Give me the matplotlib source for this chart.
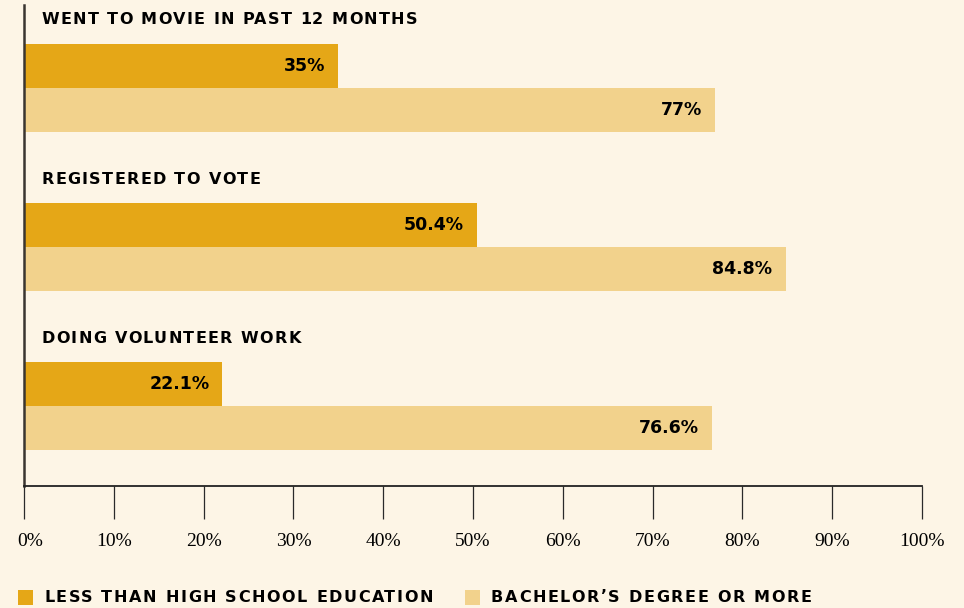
import matplotlib
matplotlib.use("Agg")
import matplotlib.pyplot as plt
import matplotlib.transforms as mtransforms
from matplotlib.font_manager import FontProperties, findfont, get_font
from matplotlib.patches import Rectangle

# data
categories = ["WENT TO MOVIE IN PAST 12 MONTHS", "REGISTERED TO VOTE", "DOING VOLUNTEER WORK"]
less_than_hs = [35, 50.4, 22.1]
bachelors = [77, 84.8, 76.6]
value_labels_hs = ["35%", "50.4%", "22.1%"]
value_labels_ba = ["77%", "84.8%", "76.6%"]
series_names = ["LESS THAN HIGH SCHOOL EDUCATION", "BACHELOR\u2019S DEGREE OR MORE"]
xticks = [0, 10, 20, 30, 40, 50, 60, 70, 80, 90, 100]

BG = "#FDF5E6"
DARK = "#E5A717"
LIGHT = "#F2D28C"

W, H = 964, 608
fig = plt.figure(figsize=(W / 100, H / 100), dpi=100, facecolor=BG)

# axes in pixel terms: x 24..922, y 5..486
ax = fig.add_axes([24 / W, 1 - 486 / H, (922 - 24) / W, (486 - 5) / H])
ax.set_facecolor(BG)

title_font = FontProperties(family="DejaVu Sans", weight="bold", size=11.5)

try:
    from matplotlib.ft2font import Kerning
    KERN = Kerning.DEFAULT
except ImportError:
    from matplotlib.ft2font import KERNING_DEFAULT as KERN


def spaced_text(x, y, s, prop, spacing, transform, color="black"):
    # matplotlib has no letter-spacing, so place each glyph by hand
    font = get_font(findfont(prop))
    font.set_size(prop.get_size_in_points(), 72)
    off = 0.0
    prev = None
    for ch in s:
        idx = font.get_char_index(ord(ch))
        if prev is not None:
            off += font.get_kerning(prev, idx, KERN) / 64
        tr = mtransforms.offset_copy(transform, fig=fig, x=off, y=0, units="points")
        fig.text(x, y, ch, fontproperties=prop, color=color, va="center", ha="left", transform=tr)
        g = font.load_char(ord(ch))
        off += g.linearHoriAdvance / 65536 + spacing
        prev = idx


# group layout (units: one group = 1)
px = 159.0
title_off = (20 - 5) / px
dark_off = (66 - 5) / px
light_off = (110 - 5) / px
bar_h = 44 / px

for i, cat in enumerate(categories):
    ax.barh(i + dark_off, less_than_hs[i], height=bar_h, color=DARK, linewidth=0)
    ax.barh(i + light_off, bachelors[i], height=bar_h, color=LIGHT, linewidth=0)
    ax.annotate(value_labels_hs[i], (less_than_hs[i], i + dark_off), xytext=(-9.5, 0),
                textcoords="offset points", ha="right", va="center",
                fontsize=12.5, fontweight="bold", family="DejaVu Sans")
    ax.annotate(value_labels_ba[i], (bachelors[i], i + light_off), xytext=(-9.5, 0),
                textcoords="offset points", ha="right", va="center",
                fontsize=12.5, fontweight="bold", family="DejaVu Sans")
    spaced_text(0, i + title_off, cat, title_font, 1.0,
                mtransforms.offset_copy(ax.transData, fig=fig, x=12.5, y=0, units="points"))

ax.set_xlim(0, 100)
ax.set_ylim(481 / px, 0)

ax.spines["top"].set_visible(False)
ax.spines["right"].set_visible(False)
ax.spines["left"].set_color("#3a3530")
ax.spines["left"].set_linewidth(1.8)
ax.spines["bottom"].set_color("#222222")
ax.spines["bottom"].set_linewidth(1.3)

ax.set_yticks([])
ax.set_xticks(xticks)
ax.set_xticklabels([f"{t}%" for t in xticks], family="Liberation Serif", fontsize=14)
ax.tick_params(axis="x", direction="out", length=24, width=0.9, color="#2a2a2a", pad=9.5)
# first label sits a little to the right of its tick
lab0 = ax.get_xticklabels()[0]
lab0.set_transform(lab0.get_transform() + mtransforms.ScaledTranslation(0.06, 0, fig.dpi_scale_trans))

# legend
sq = 15 / H
fig.patches.append(Rectangle((18 / W, 1 - 605 / H), 15 / W, sq, transform=fig.transFigure,
                             color=DARK, lw=0))
fig.patches.append(Rectangle((465 / W, 1 - 605 / H), 15 / W, sq, transform=fig.transFigure,
                             color=LIGHT, lw=0))
legend_font = FontProperties(family="DejaVu Sans", weight="bold", size=11.5)
spaced_text(44 / W, 1 - 597 / H, series_names[0], legend_font, 1.2, fig.transFigure)
spaced_text(491 / W, 1 - 597 / H, series_names[1], legend_font, 1.2, fig.transFigure)

fig.savefig("out.png", dpi=100, facecolor=BG)
